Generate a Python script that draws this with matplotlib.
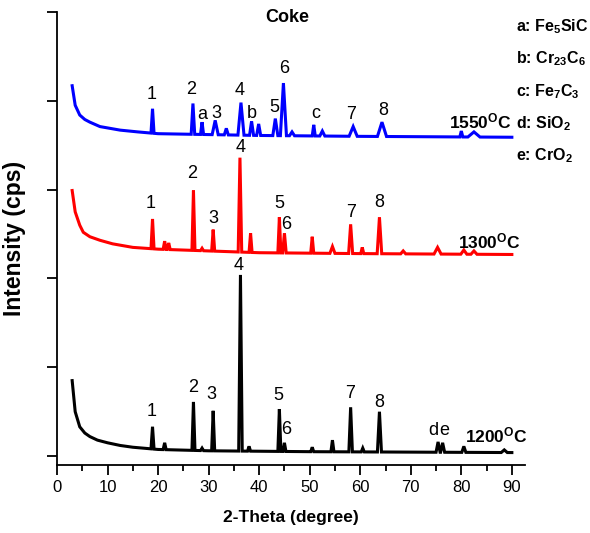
import numpy as np
import matplotlib
matplotlib.use("Agg")
import matplotlib.pyplot as plt
from matplotlib.ticker import MultipleLocator

plt.rcParams['font.family'] = ['Liberation Sans', 'DejaVu Sans']
plt.rcParams['mathtext.default'] = 'regular'

# ---------------- data ----------------
# 1200 C (black)
bg_x_1200 = [3.0, 3.6, 4.5, 5.5, 6.5, 8.0, 10.0, 12.5, 15.0, 20.0, 30.0, 50.0, 70.0, 90.0]
bg_y_1200 = [0.85, 0.50, 0.33, 0.26, 0.22, 0.18, 0.15, 0.12, 0.10, 0.075, 0.06, 0.05, 0.045, 0.04]
pk_pos_1200 = [18.9, 21.3, 27.0, 28.7, 30.9, 36.3, 38.0, 44.0, 45.0, 50.5, 54.5, 58.1, 60.5, 63.8, 75.4, 76.3, 80.5, 88.5]
pk_top_1200 = [0.33, 0.15, 0.61, 0.09, 0.51, 2.04, 0.11, 0.53, 0.15, 0.10, 0.18, 0.55, 0.09, 0.50, 0.16, 0.15, 0.11, 0.07]
pk_hw_1200 = [0.3, 0.3, 0.3, 0.3, 0.3, 0.35, 0.3, 0.3, 0.3, 0.3, 0.3, 0.35, 0.3, 0.4, 0.4, 0.4, 0.4, 0.6]

# 1300 C (red)
bg_x_1300 = [3.0, 3.6, 4.5, 5.2, 6.5, 8.5, 11.0, 15.0, 20.0, 30.0, 40.0, 60.0, 90.0]
bg_y_1300 = [2.99, 2.75, 2.60, 2.52, 2.47, 2.43, 2.39, 2.35, 2.33, 2.31, 2.29, 2.28, 2.27]
pk_pos_1300 = [18.9, 21.3, 22.1, 27.0, 28.7, 30.9, 36.2, 38.3, 44.0, 45.0, 50.5, 54.5, 58.1, 60.4, 63.8, 68.5, 75.3, 80.5, 82.5]
pk_top_1300 = [2.67, 2.42, 2.40, 2.99, 2.34, 2.55, 3.36, 2.51, 2.69, 2.51, 2.47, 2.36, 2.61, 2.35, 2.69, 2.31, 2.35, 2.32, 2.31]
pk_hw_1300 = [0.3, 0.3, 0.3, 0.3, 0.3, 0.3, 0.35, 0.3, 0.3, 0.35, 0.3, 0.5, 0.4, 0.3, 0.45, 0.5, 0.7, 0.6, 0.6]

# 1550 C (blue)
bg_x_1550 = [3.0, 3.6, 4.5, 5.5, 6.5, 8.5, 12.5, 16.0, 20.0, 30.0, 40.0, 60.0, 90.0]
bg_y_1550 = [4.17, 3.95, 3.84, 3.79, 3.76, 3.71, 3.67, 3.65, 3.63, 3.62, 3.61, 3.60, 3.59]
pk_pos_1550 = [18.9, 26.9, 28.7, 31.3, 33.5, 36.4, 38.5, 39.9, 43.2, 44.8, 46.5, 50.8, 52.5, 58.6, 64.3, 80.0, 82.5]
pk_top_1550 = [3.91, 3.97, 3.76, 3.78, 3.69, 3.98, 3.77, 3.74, 3.80, 4.20, 3.65, 3.73, 3.66, 3.71, 3.76, 3.66, 3.65]
pk_hw_1550 = [0.3, 0.35, 0.3, 0.6, 0.4, 0.6, 0.4, 0.4, 0.5, 0.6, 0.5, 0.3, 0.5, 0.8, 0.9, 0.3, 1.2]

# peak labels: (text, x, baseline y)
lab_1200 = [("1", 18.8, 0.45), ("2", 26.9, 0.72), ("3", 30.5, 0.64), ("4", 36.0, 2.09),
            ("5", 43.8, 0.63), ("6", 45.3, 0.25), ("7", 58.0, 0.65), ("8", 63.8, 0.55),
            ("d", 74.4, 0.24), ("e", 76.7, 0.24)]
lab_1300 = [("1", 18.6, 2.79), ("2", 26.7, 3.13), ("3", 30.9, 2.63), ("4", 36.3, 3.42),
            ("5", 44.0, 2.79), ("6", 45.4, 2.56), ("7", 58.2, 2.69), ("8", 63.8, 2.80)]
lab_1550 = [("1", 18.8, 4.02), ("2", 26.5, 4.08), ("a", 28.7, 3.79), ("3", 31.5, 3.81),
            ("4", 36.2, 4.07), ("b", 38.6, 3.81), ("5", 43.0, 3.87), ("6", 45.0, 4.31),
            ("c", 51.1, 3.81), ("7", 58.2, 3.80), ("8", 64.5, 3.84)]
temps = ["1200$^{O}$C", "1300$^{O}$C", "1550$^{O}$C"]
temp_pos = [(80.8, 0.15), (79.4, 2.34), (77.6, 3.69)]
phases = ["a: Fe$_5$SiC", "b: Cr$_{23}$C$_6$", "c: Fe$_7$C$_3$", "d: SiO$_2$", "e: CrO$_2$"]
colors = ["black", "red", "blue"]
xticks = [0, 10, 20, 30, 40, 50, 60, 70, 80, 90]


def build(bx, by, pp, pt, ph):
    xs, ys = [], []
    for x, y in zip(bx, by):
        if all(abs(x - p) > h for p, h in zip(pp, ph)):
            xs.append(x); ys.append(y)
    for p, t, h in zip(pp, pt, ph):
        for xx, yy in ((p - h, None), (p, t), (p + h, None)):
            xs.append(xx)
            ys.append(np.interp(xx, bx, by) if yy is None else yy)
    order = np.argsort(xs)
    return np.array(xs)[order], np.array(ys)[order]


fig = plt.figure(figsize=(5.9, 5.33), dpi=100)
ax = fig.add_axes([57 / 590, 68 / 533, 468 / 590, 453 / 533])

series = [(bg_x_1200, bg_y_1200, pk_pos_1200, pk_top_1200, pk_hw_1200),
          (bg_x_1300, bg_y_1300, pk_pos_1300, pk_top_1300, pk_hw_1300),
          (bg_x_1550, bg_y_1550, pk_pos_1550, pk_top_1550, pk_hw_1550)]
for s, c in zip(series, colors):
    x, y = build(*s)
    ax.plot(x, y, color=c, lw=2.2, solid_joinstyle='miter')

for labs in (lab_1200, lab_1300, lab_1550):
    for t, x, y in labs:
        ax.text(x, y, t, ha='center', va='baseline', fontsize=13)

for t, (x, y) in zip(temps, temp_pos):
    ax.text(x, y, t, ha='left', va='baseline', fontsize=12.5, fontweight='bold')

ax.text(45.5, 5.03, "Coke", ha='center', va='top', fontsize=13, fontweight='bold')
fig_y = [0.942, 0.882, 0.820, 0.760, 0.700]
for t, fy in zip(phases, fig_y):
    fig.text(0.874, fy, t, ha='left', va='baseline', fontsize=11.5, fontweight='bold')

ax.set_xlim(0, 92.6)
ax.set_ylim(-0.1, 5.0)
ax.set_xticks(xticks)
ax.xaxis.set_minor_locator(MultipleLocator(5))
ax.set_yticks([0, 1, 2, 3, 4, 5])
ax.set_yticklabels([])
ax.tick_params(axis='both', which='major', direction='out', length=7, width=1.3, labelsize=12)
ax.tick_params(axis='x', which='minor', direction='out', length=4, width=1.3)
for sp in ('top', 'right'):
    ax.spines[sp].set_visible(False)
for sp in ('left', 'bottom'):
    ax.spines[sp].set_linewidth(1.3)
ax.set_xlabel("2-Theta (degree)", fontsize=12.5, fontweight='bold', labelpad=11)
ax.set_ylabel("Intensity (cps)", fontsize=16.5, fontweight='bold', labelpad=12)

fig.savefig("out.png", dpi=100)
